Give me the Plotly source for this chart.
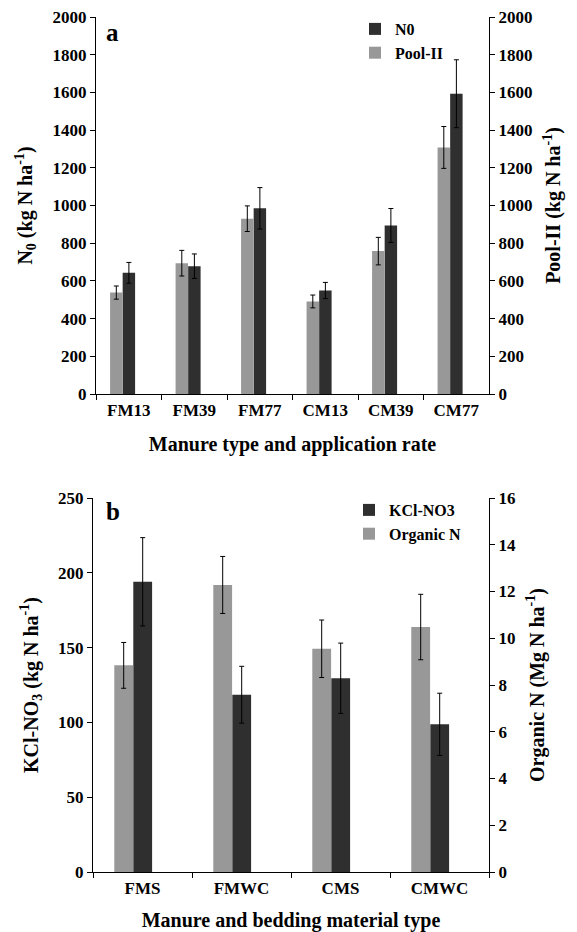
import plotly.graph_objects as go

# ---- data, panel a ----
cats_a = ["FM13", "FM39", "FM77", "CM13", "CM39", "CM77"]
n0 = [643, 678, 985, 549, 894, 1593]
n0_err = [55, 65, 110, 43, 90, 180]
pool2 = [538, 694, 930, 491, 758, 1308]
pool2_err = [35, 68, 68, 34, 73, 111]

# ---- data, panel b ----
cats_b = ["FMS", "FMWC", "CMS", "CMWC"]
kcl = [194, 118.5, 129.5, 98.7]
kcl_err = [29.5, 19, 23.5, 20.8]
orgn = [8.84, 12.28, 9.55, 10.48]
orgn_err = [0.98, 1.22, 1.23, 1.4]

GRAY = "#989898"
DARK = "#2f2f2f"
FONT = "Liberation Serif"
BW = 0.19
OFF_G = -0.285
OFF_D = -0.093

W, H = 577, 932


def fx(px):
    return px / W


def fy(py):
    return 1 - py / H


err_style = dict(type="data", color="black", thickness=1, width=2.5)

fig = go.Figure()

# panel a
fig.add_trace(go.Bar(x=cats_a, y=n0, name="N0", marker=dict(color=DARK, line=dict(width=0)),
                     width=BW, offset=OFF_D, xaxis="x", yaxis="y",
                     error_y=dict(array=n0_err, **err_style), legend="legend"))
fig.add_trace(go.Bar(x=cats_a, y=pool2, name="Pool-II", marker=dict(color=GRAY, line=dict(width=0)),
                     width=BW, offset=OFF_G, xaxis="x", yaxis="y2",
                     error_y=dict(array=pool2_err, **err_style), legend="legend"))

# panel b
fig.add_trace(go.Bar(x=cats_b, y=kcl, name="KCl-NO3", marker=dict(color=DARK, line=dict(width=0)),
                     width=BW, offset=OFF_D, xaxis="x2", yaxis="y3",
                     error_y=dict(array=kcl_err, **err_style), legend="legend2"))
fig.add_trace(go.Bar(x=cats_b, y=orgn, name="Organic N", marker=dict(color=GRAY, line=dict(width=0)),
                     width=BW, offset=OFF_G, xaxis="x2", yaxis="y4",
                     error_y=dict(array=orgn_err, **err_style), legend="legend2"))

tickfont = dict(family=FONT, size=17, color="black", weight="bold")
titlefont = dict(family=FONT, size=20, color="black", weight="bold")

common_y = dict(showline=True, linecolor="black", linewidth=1.2, ticks="outside", ticklen=5,
                tickcolor="black", tickwidth=1, showgrid=False, zeroline=False,
                tickfont=tickfont, automargin=False)
common_x = dict(type="category", showline=True, linecolor="black", linewidth=1.2,
                ticks="outside", ticklen=5, tickcolor="black", tickson="boundaries",
                showgrid=False, zeroline=False, tickfont=dict(tickfont, size=17), automargin=False)

legfont = dict(family=FONT, size=16, color="black", weight="bold")

fig.update_layout(
    width=W, height=H,
    margin=dict(l=0, r=0, t=0, b=0),
    paper_bgcolor="white", plot_bgcolor="white",
    font=dict(family=FONT, color="black", weight="bold"),
    barmode="overlay",
    xaxis=dict(common_x, domain=[fx(96), fx(489)], anchor="y", range=[-0.5, 5.5],
               title=dict(text="Manure type and application rate", font=titlefont, standoff=18)),
    yaxis=dict(common_y, domain=[fy(394), fy(17)], anchor="x", range=[0, 2000], dtick=200,
               title=dict(text="N<sub>0</sub> (kg N ha<sup>-1</sup>)", font=titlefont, standoff=14)),
    yaxis2=dict(common_y, overlaying="y", side="right", anchor="x", range=[0, 2000], dtick=200,
                title=dict(text="Pool-II (kg N ha<sup>-1</sup>)", font=titlefont, standoff=14)),
    xaxis2=dict(common_x, domain=[fx(93), fx(489)], anchor="y3", range=[-0.5, 3.5],
                title=dict(text="Manure and bedding material type", font=titlefont, standoff=16)),
    yaxis3=dict(common_y, domain=[fy(872), fy(498)], anchor="x2", range=[0, 250], dtick=50,
                title=dict(text="KCl-NO<sub>3</sub> (kg N ha<sup>-1</sup>)", font=titlefont, standoff=14)),
    yaxis4=dict(common_y, overlaying="y3", side="right", anchor="x2", range=[0, 16], dtick=2,
                title=dict(text="Organic N (Mg N ha<sup>-1</sup>)", font=titlefont, standoff=14)),
    legend=dict(x=fx(355), y=fy(12), xanchor="left", yanchor="top", bgcolor="rgba(0,0,0,0)",
                font=legfont, itemwidth=30, tracegroupgap=0, traceorder="normal"),
    legend2=dict(x=fx(349), y=fy(493), xanchor="left", yanchor="top", bgcolor="rgba(0,0,0,0)",
                 font=legfont, itemwidth=30, tracegroupgap=0, traceorder="normal"),
    annotations=[
        dict(text="a", x=fx(104), y=fy(33), xref="paper", yref="paper", xanchor="left",
             yanchor="middle", showarrow=False,
             font=dict(family=FONT, size=25, color="black", weight="bold")),
        dict(text="b", x=fx(104), y=fy(511), xref="paper", yref="paper", xanchor="left",
             yanchor="middle", showarrow=False,
             font=dict(family=FONT, size=25, color="black", weight="bold")),
    ],
)

fig.write_html("out.html")
